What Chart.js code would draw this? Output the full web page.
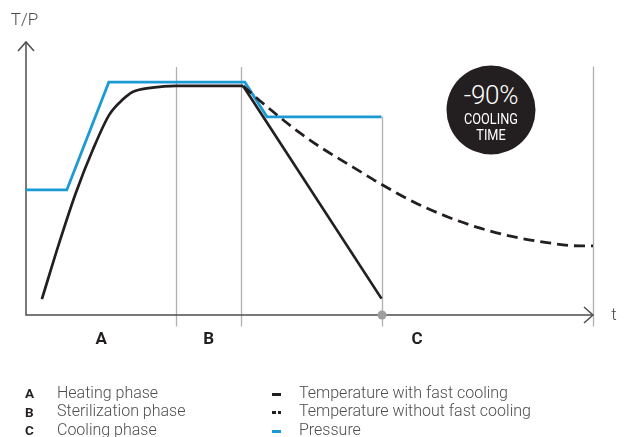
<!DOCTYPE html>
<html>
<head>
<meta charset="utf-8">
<script src="https://cdn.jsdelivr.net/npm/chart.js@4/dist/chart.umd.min.js"></script>
<style>
  html, body { margin: 0; padding: 0; background: #fff; }
  #wrap { position: relative; width: 625px; height: 437px; overflow: hidden; font-family: Roboto, "Noto Sans", sans-serif; }
  #chart { position: absolute; left: 0; top: 0; }
  .lbl { position: absolute; line-height: 1; white-space: nowrap; transform: translate(-50%, -50%); }
  .axis-name { font-size: 17px; font-weight: 300; color: #4a4a4a; }
  .phase { font-size: 17px; font-weight: 700; color: #231f20; }
  #badge { position: absolute; width: 89px; height: 89px; border-radius: 50%; background: #231f20; color: #fff; transform: translate(-50%, -50%); text-align: center; }
  #badge .big { position: absolute; left: 0; right: 0; top: 16px; font-size: 26px; font-weight: 300; line-height: 1; letter-spacing: -0.3px; }
  #badge .small { position: absolute; left: 0; right: 0; font-size: 15px; line-height: 1; transform: scaleX(0.85); }
  #legend { position: absolute; left: 0; top: 383.5px; width: 625px; font-size: 16px; line-height: 18px; color: #4d4d4d; font-weight: 300; }
  .row { position: absolute; height: 18px; white-space: nowrap; }
  .key { position: absolute; left: 0; top: 0.5px; font-size: 13.5px; font-weight: 700; color: #231f20; }
  .txt { position: absolute; }
  .sym { position: absolute; top: 9px; height: 3px; }
</style>
</head>
<body>
<div id="wrap">
  <canvas id="chart" width="625" height="437"></canvas>
  <div id="legend"></div>
</div>
<script>
// time and value units run 0..100 on both axes (schematic diagram)
const phaseNames = ["A", "B", "C"];
const phaseText = ["Heating phase", "Sterilization phase", "Cooling phase"];
const phaseBounds = [0, 26.5, 37.9, 62.7, 100];
const phaseLineTops = [90.8, 90.8, 72.6, 91];

const pressureTime = [0, 7.2, 14.6, 38.6, 42.5, 62.7];
const pressure = [45.8, 45.8, 85.3, 85.3, 72.6, 72.6];

const fastTime = [2.8, 5.9, 8.8, 11.8, 14.7, 17.1, 18.8, 22.3, 26.5, 38.3, 62.7];
const fastTemp = [5.8, 26.7, 44.8, 60.6, 73.4, 79.0, 81.7, 83.3, 83.9, 83.9, 6.0];

const slowTime = [38.3, 41.3, 48.3, 51.9, 55.4, 58.9, 62.4, 68.3, 74.3, 80.1, 85.9, 91.9, 97.7, 100];
const slowTemp = [83.9, 78.4, 66.7, 61.5, 57.0, 52.6, 48.2, 41.5, 36.0, 31.8, 28.7, 26.5, 25.3, 25.3];

const seriesNames = ["Temperature with fast cooling", "Temperature without fast cooling", "Pressure"];
const badgeLines = ["-90%", "COOLING", "TIME"];

const BLACK = "#231f20";
const BLUE = "#1b9ad6";

function pts(xs, ys) { return xs.map((x, i) => ({ x: x, y: ys[i] })); }

const rise = pts(fastTime.slice(0, 10), fastTemp.slice(0, 10));
const drop = pts(fastTime.slice(9), fastTemp.slice(9));

const axesPlugin = {
  id: "axes",
  beforeDatasetsDraw(chart) {
    const { ctx, scales: { x, y } } = chart;
    ctx.save();
    // phase separators
    ctx.strokeStyle = "#b0b0b0";
    ctx.lineWidth = 1.3;
    for (let i = 1; i < phaseBounds.length; i++) {
      const px = Math.round(x.getPixelForValue(phaseBounds[i])) + 0.5;
      ctx.beginPath();
      ctx.moveTo(px, y.getPixelForValue(phaseLineTops[i - 1]));
      ctx.lineTo(px, y.getPixelForValue(0) + 11.5);
      ctx.stroke();
    }
    // axes with open arrow heads
    const x0 = x.getPixelForValue(0), y0 = y.getPixelForValue(0);
    const x1 = x.getPixelForValue(100), y1 = y.getPixelForValue(100);
    ctx.strokeStyle = "#4d4d4d";
    ctx.lineWidth = 1.5;
    ctx.beginPath();
    ctx.moveTo(x0, y1); ctx.lineTo(x0, y0); ctx.lineTo(x1, y0);
    ctx.stroke();
    ctx.beginPath();
    ctx.moveTo(x0 - 8, y1 + 9); ctx.lineTo(x0, y1); ctx.lineTo(x0 + 8, y1 + 9);
    ctx.moveTo(x1 - 9, y0 - 8); ctx.lineTo(x1, y0); ctx.lineTo(x1 - 9, y0 + 8);
    ctx.stroke();
    ctx.restore();
  },
  afterDatasetsDraw(chart) {
    const { ctx, scales: { x, y } } = chart;
    ctx.save();
    ctx.fillStyle = "#9e9e9e";
    ctx.beginPath();
    ctx.arc(x.getPixelForValue(phaseBounds[3]) + 0.5, y.getPixelForValue(0), 4.5, 0, Math.PI * 2);
    ctx.fill();
    ctx.restore();
  }
};

const chart = new Chart(document.getElementById("chart"), {
  type: "line",
  data: {
    datasets: [
      { label: seriesNames[0], data: rise, borderColor: BLACK, borderWidth: 2.7, cubicInterpolationMode: "monotone" },
      { label: seriesNames[0], data: drop, borderColor: BLACK, borderWidth: 2.7, tension: 0 },
      { label: seriesNames[1], data: pts(slowTime, slowTemp), borderColor: BLACK, borderWidth: 2.8, borderDash: [11, 6], cubicInterpolationMode: "monotone" },
      { label: seriesNames[2], data: pts(pressureTime, pressure), borderColor: BLUE, borderWidth: 2.8, tension: 0 }
    ]
  },
  options: {
    responsive: false,
    animation: false,
    layout: { padding: { left: 26, right: 32, top: 42, bottom: 122 } },
    elements: { point: { radius: 0 }, line: { borderCapStyle: "butt", borderJoinStyle: "miter", fill: false } },
    scales: {
      x: { type: "linear", min: 0, max: 100, display: false },
      y: { type: "linear", min: 0, max: 100, display: false }
    },
    plugins: { legend: { display: false }, tooltip: { enabled: false } }
  },
  plugins: [axesPlugin]
});

// text placed from the chart's scales
const wrap = document.getElementById("wrap");
const sx = chart.scales.x, sy = chart.scales.y;
function addLabel(text, cls, left, top) {
  const d = document.createElement("div");
  d.className = "lbl " + cls;
  d.textContent = text;
  d.style.left = left + "px";
  d.style.top = top + "px";
  wrap.appendChild(d);
}
addLabel("T/P", "axis-name", sx.getPixelForValue(0) - 1.5, sy.getPixelForValue(100) - 23);
addLabel("t", "axis-name", sx.getPixelForValue(100) + 21, sy.getPixelForValue(0) - 1);
const phaseMid = [(phaseBounds[0] + phaseBounds[1]) / 2, (phaseBounds[1] + phaseBounds[2]) / 2, (phaseBounds[2] + phaseBounds[4]) / 2];
phaseNames.forEach((n, i) => addLabel(n, "phase", sx.getPixelForValue(phaseMid[i]), sy.getPixelForValue(0) + 23));

const badge = document.createElement("div");
badge.id = "badge";
badge.style.left = sx.getPixelForValue(82) + "px";
badge.style.top = sy.getPixelForValue(75.1) + "px";
badge.innerHTML = '<div class="big">' + badgeLines[0] + '</div>' +
  '<div class="small" style="top:46px">' + badgeLines[1] + '</div>' +
  '<div class="small" style="top:62px">' + badgeLines[2] + '</div>';
wrap.appendChild(badge);

// legend
const legend = document.getElementById("legend");
const symbols = [
  '<span class="sym" style="left:272px;width:9px;background:' + BLACK + '"></span>',
  '<span class="sym" style="left:272px;width:3.5px;background:' + BLACK + '"></span><span class="sym" style="left:277.5px;width:3.5px;background:' + BLACK + '"></span>',
  '<span class="sym" style="left:272px;width:9px;background:' + BLUE + '"></span>'
];
for (let i = 0; i < 3; i++) {
  const r = document.createElement("div");
  r.className = "row";
  r.style.top = (i * 18.5) + "px";
  r.style.left = "0px";
  r.style.width = "625px";
  r.innerHTML = '<span class="key" style="left:25px">' + phaseNames[i] + '</span>' +
    '<span class="txt" style="left:57px">' + phaseText[i] + '</span>' +
    symbols[i] +
    '<span class="txt" style="left:299px">' + seriesNames[i] + '</span>';
  legend.appendChild(r);
}
</script>
</body>
</html>
